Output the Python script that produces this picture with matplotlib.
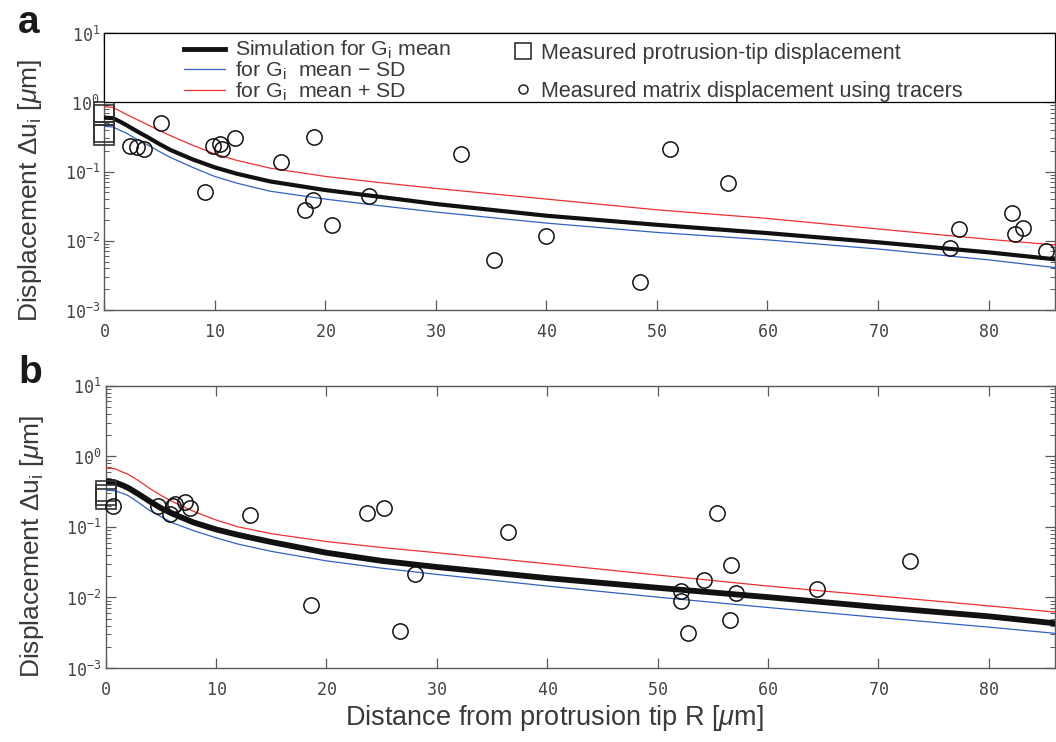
import matplotlib
matplotlib.use("Agg")
import numpy as np
import matplotlib.pyplot as plt
from matplotlib.lines import Line2D
from matplotlib.patches import Rectangle
from matplotlib.ticker import FixedLocator, LogLocator, FuncFormatter, NullFormatter

plt.rcParams["font.family"] = ["Liberation Sans", "DejaVu Sans"]
plt.rcParams["mathtext.fontset"] = "custom"
plt.rcParams["mathtext.rm"] = "Liberation Sans"
plt.rcParams["mathtext.it"] = "Liberation Sans:italic"
plt.rcParams["mathtext.bf"] = "Liberation Sans:bold"
plt.rcParams["mathtext.tt"] = "DejaVu Sans Mono"

# simulated displacement vs distance
sim_r = [0, 0.8, 1.5, 2, 3, 4, 5, 6, 8, 10, 12, 15, 20, 25, 30, 40, 50, 60, 70, 80, 86]

sim_mean_a = [0.60, 0.59, 0.52, 0.47, 0.38, 0.31, 0.25, 0.205, 0.15, 0.115, 0.093, 0.072,
              0.054, 0.043, 0.034, 0.023, 0.017, 0.0129, 0.0095, 0.0068, 0.0054]
sim_plus_a = [0.87, 0.84, 0.74, 0.67, 0.56, 0.47, 0.39, 0.33, 0.24, 0.18, 0.145, 0.112,
              0.085, 0.069, 0.057, 0.040, 0.028, 0.021, 0.0148, 0.0105, 0.0087]
sim_minus_a = [0.45, 0.44, 0.39, 0.36, 0.29, 0.24, 0.195, 0.16, 0.115, 0.085, 0.068, 0.052,
               0.040, 0.032, 0.026, 0.018, 0.0132, 0.0103, 0.0076, 0.0053, 0.0041]

sim_mean_b = [0.44, 0.43, 0.39, 0.36, 0.29, 0.23, 0.185, 0.155, 0.115, 0.092, 0.077, 0.061,
              0.043, 0.033, 0.027, 0.0188, 0.0137, 0.0101, 0.0073, 0.0054, 0.0043]
sim_plus_b = [0.68, 0.67, 0.60, 0.56, 0.45, 0.35, 0.28, 0.23, 0.165, 0.125, 0.10, 0.08,
              0.062, 0.051, 0.043, 0.030, 0.0208, 0.0145, 0.0105, 0.0076, 0.0062]
sim_minus_b = [0.33, 0.325, 0.30, 0.28, 0.22, 0.17, 0.14, 0.115, 0.088, 0.07, 0.057, 0.045,
               0.033, 0.026, 0.0212, 0.0145, 0.0101, 0.0072, 0.0052, 0.0038, 0.0031]

# measured protrusion-tip displacement (squares at R = 0)
tip_a = [0.72, 0.66, 0.37, 0.335]
tip_b = [0.32, 0.28, 0.25]

# tracer displacements (circles)
tracer_r_a = [2.35, 2.95, 3.6, 5.18, 9.12, 9.88, 10.48, 10.63, 11.86, 16.05, 19.0, 18.16,
              18.9, 20.6, 23.97, 32.25, 35.3, 40.0, 48.5, 51.2, 56.4, 76.5, 77.3, 82.14,
              82.4, 83.1, 85.2]
tracer_u_a = [0.234, 0.224, 0.21, 0.51, 0.051, 0.23, 0.25, 0.21, 0.30, 0.139, 0.316, 0.0277,
              0.039, 0.017, 0.0436, 0.179, 0.0052, 0.0116, 0.00255, 0.21, 0.0678, 0.0079,
              0.0147, 0.0253, 0.0126, 0.0151, 0.0071]

tracer_r_b = [0.69, 4.76, 5.81, 6.1, 6.3, 7.17, 7.62, 13.05, 18.6, 23.7, 25.2, 26.67, 28.06,
              36.44, 52.08, 52.08, 52.77, 54.2, 55.36, 56.65, 57.1, 56.56, 64.43, 72.87]
tracer_u_b = [0.20, 0.20, 0.153, 0.20, 0.21, 0.224, 0.186, 0.145, 0.0077, 0.156, 0.188,
              0.0033, 0.0212, 0.084, 0.0123, 0.0088, 0.0031, 0.0179, 0.155, 0.0288, 0.0117,
              0.0048, 0.0133, 0.0327]

BLUE = "#2f62c4"
RED = "#f03030"
TXT = "#3a3a3a"
GRID = "#5a5a5a"


def ytick_fmt(v, pos):
    return r"$\mathtt{10^{%d}}$" % int(round(np.log10(v)))


def xtick_fmt(v, pos):
    return r"$\mathtt{%d}$" % int(round(v))


def style_axes(ax):
    ax.set_yscale("log")
    ax.set_xlim(0, 86)
    ax.set_ylim(1e-3, 10)
    ax.xaxis.set_major_locator(FixedLocator(range(0, 90, 10)))
    ax.xaxis.set_major_formatter(FuncFormatter(xtick_fmt))
    ax.yaxis.set_major_locator(LogLocator(base=10, numticks=10))
    ax.yaxis.set_minor_locator(LogLocator(base=10, subs=np.arange(2, 10), numticks=10))
    ax.yaxis.set_major_formatter(FuncFormatter(ytick_fmt))
    ax.yaxis.set_minor_formatter(NullFormatter())
    ax.tick_params(which="both", direction="in", top=True, right=True,
                   color=GRID, labelcolor="#444444", labelsize=12)
    ax.tick_params(which="major", length=7, width=0.9)
    ax.tick_params(which="minor", length=3.5, width=0.7)
    ax.tick_params(axis="x", pad=9)
    ax.tick_params(axis="y", pad=3)
    for s in ax.spines.values():
        s.set_color(GRID)
        s.set_linewidth(1.0)
    ax.set_ylabel(r"Displacement $\Delta$u$_\mathrm{i}$ [$\mu$m]", fontsize=19, color=TXT)
    ax.yaxis.set_label_coords(-0.063, 0.43)


def draw_panel(ax, mean, plus, minus, tips, tr_r, tr_u, lw_mean):
    ax.plot(sim_r, minus, color=BLUE, lw=0.9, zorder=3)
    ax.plot(sim_r, plus, color=RED, lw=0.9, zorder=3)
    ax.plot(sim_r, mean, color="#111111", lw=lw_mean, zorder=4)
    ax.plot(np.zeros(len(tips)), tips, ls="none", marker="s", ms=14.5,
            mfc="none", mec="#333333", mew=1.2, clip_on=False, zorder=5)
    ax.plot(tr_r, tr_u, ls="none", marker="o", ms=11, mfc="none",
            mec="#111111", mew=1.1, clip_on=False, zorder=5)


fig = plt.figure(figsize=(10.56, 7.42), dpi=100)
ax_a = fig.add_axes([0.0985, 0.5822, 0.9005, 0.3733])
ax_b = fig.add_axes([0.1000, 0.0997, 0.8990, 0.3805])

draw_panel(ax_a, sim_mean_a, sim_plus_a, sim_minus_a, tip_a, tracer_r_a, tracer_u_a, 3.0)
draw_panel(ax_b, sim_mean_b, sim_plus_b, sim_minus_b, tip_b, tracer_r_b, tracer_u_b, 4.2)
style_axes(ax_a)
style_axes(ax_b)

# legend box spans the top of panel a
ax_a.add_patch(Rectangle((0, 0.75), 1.0, 0.25, transform=ax_a.transAxes,
                         facecolor="white", edgecolor="black", lw=0.9, zorder=6, clip_on=False))

left_handles = [Line2D([], [], color="#111111", lw=3.5),
                Line2D([], [], color=BLUE, lw=0.9),
                Line2D([], [], color=RED, lw=0.9)]
left_labels = [r"Simulation for G$_\mathrm{i}$ mean",
               r"for G$_\mathrm{i}$  mean $-$ SD",
               r"for G$_\mathrm{i}$  mean + SD"]
leg1 = ax_a.legend(left_handles, left_labels, loc="upper left",
                   bbox_to_anchor=(0.084, 0.978), frameon=False, fontsize=15.3,
                   handlelength=1.95, handletextpad=0.45, labelspacing=-0.08,
                   borderpad=0, borderaxespad=0, labelcolor=TXT)
leg1.set_zorder(7)
ax_a.add_artist(leg1)

right_handles = [Line2D([], [], ls="none", marker="s", ms=11, mfc="none", mec="#222222", mew=1.1),
                 Line2D([], [], ls="none", marker="o", ms=6.5, mfc="none", mec="#222222", mew=1.1)]
right_labels = ["Measured protrusion-tip displacement",
                "Measured matrix displacement using tracers"]
leg2 = ax_a.legend(right_handles, right_labels, loc="upper left",
                   bbox_to_anchor=(0.432, 0.965), frameon=False, fontsize=15.5,
                   handlelength=0.8, handletextpad=0.4, labelspacing=0.78,
                   borderpad=0, borderaxespad=0, labelcolor=TXT)
leg2.set_zorder(7)

ax_b.set_xlabel(r"Distance from protrusion tip R [$\mu$m]", fontsize=19.5, color=TXT)
ax_b.xaxis.set_label_coords(0.473, -0.125)

fig.text(0.017, 1 - 33 / 742, "a", fontsize=28, fontweight="bold", color="#1a1a1a", va="baseline")
fig.text(0.017, 1 - 383 / 742, "b", fontsize=28, fontweight="bold", color="#1a1a1a", va="baseline")

fig.savefig("out.png", dpi=100)
